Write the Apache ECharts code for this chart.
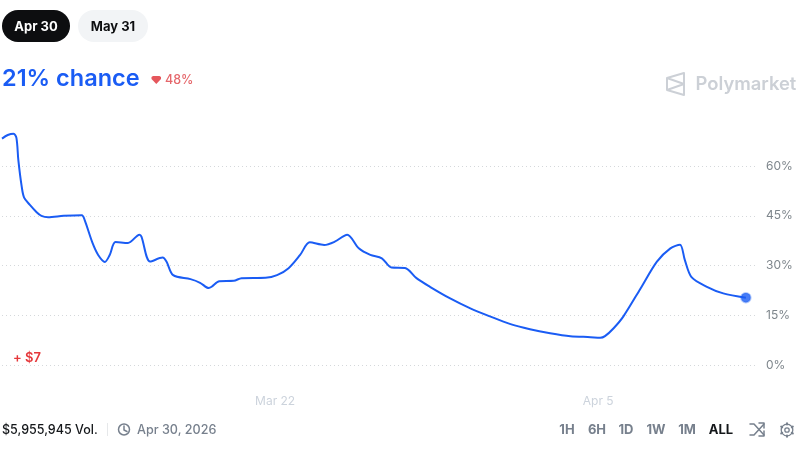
<!DOCTYPE html>
<html>
<head>
<meta charset="utf-8">
<title>Polymarket chance</title>
<script src="https://cdn.jsdelivr.net/npm/echarts@6/dist/echarts.min.js"></script>
<style>
html, body { margin: 0; padding: 0; background: #fff; }
#main { width: 800px; height: 450px; }
</style>
</head>
<body>
<div id="main"></div>
<script>
'use strict';
var startTime = Date.UTC(2026, 2, 10, 4);
var endHours = 783;

var hours = [0, 6, 12, 15, 17, 20.5, 23, 29, 36, 41, 48, 64, 83, 86, 94, 100, 107, 112, 118, 131,
	143, 145, 154, 167, 171, 178, 196, 206, 215, 218, 226, 241, 249, 274, 286, 298, 310, 320, 335, 346,
	359, 371, 383, 395, 405, 419, 431, 445, 466, 487, 508, 528, 549, 570, 591, 612, 622, 627, 636, 646,
	664, 681, 695, 705, 710, 717, 733, 750, 773.5];
var chance = [68.3, 69.4, 69.8, 68.5, 61.8, 53.8, 50.5, 48.3, 46.1, 45.0, 44.6, 45.0, 45.2, 43.7, 36.9, 33.2, 31.1, 33.2, 37.1, 36.8,
	39.3, 38.7, 31.2, 32.4, 31.2, 27.1, 25.9, 24.8, 23.2, 23.6, 25.3, 25.4, 26.2, 26.3, 27.1, 29.2, 33.2, 37.0, 36.2, 37.2,
	39.3, 35.2, 33.2, 32.2, 29.4, 29.3, 26.2, 23.6, 20.1, 17.1, 14.6, 12.4, 10.8, 9.6, 8.7, 8.4, 8.2, 8.7, 11.1, 14.6,
	23.1, 31.2, 35.2, 36.3, 31.7, 26.5, 23.6, 21.6, 20.3];
var xTicks = [Date.UTC(2026, 2, 22), Date.UTC(2026, 3, 5)];
var xTickLabels = ['Mar 22', 'Apr 5'];
var ranges = ['1H', '6H', '1D', '1W', '1M', 'ALL'];
var rangeX = [567, 597, 626, 656, 687, 721];

var BLUE = '#1a5cf4';
var FONT = 'Inter, "Noto Sans", sans-serif';

var points = hours.map(function (h, i) {
	return [startTime + h * 3600000, chance[i]];
});

function label(text, x, y, size, weight, color, align) {
	return {
		type: 'text', x: x, y: y,
		style: {
			text: text, fill: color, align: align || 'left', verticalAlign: 'middle',
			font: weight + ' ' + size + 'px ' + FONT
		}
	};
}

function outline(shape, color, width, x, y, type) {
	return {
		type: type || 'polyline', x: x, y: y, shape: shape,
		style: { fill: 'none', stroke: color, lineWidth: width, lineCap: 'round', lineJoin: 'round' }
	};
}

var graphics = [
	{ type: 'rect', shape: { x: 2, y: 10, width: 68, height: 32, r: 16 }, style: { fill: '#0d0e10' } },
	{ type: 'rect', shape: { x: 78, y: 10, width: 70, height: 32, r: 16 }, style: { fill: '#f2f4f6' } },
	label('Apr 30', 36, 27, 13, 700, '#ffffff', 'center'),
	label('May 31', 113, 27, 13, 700, '#0d0e10', 'center'),
	label('21% chance', 2, 78.5, 23.5, 600, BLUE),
	{ type: 'polygon', shape: { points: [[151.5, 77], [153, 76], [159.5, 76], [161, 77], [161, 79], [156.3, 84], [151.5, 79]] }, style: { fill: '#e5575c' } },
	label('48%', 165, 80, 12.5, 500, '#e5676b'),
	label('Polymarket', 695.5, 84.5, 18.4, 600, '#ccd0d6'),
	outline({ points: [[667, 78], [684, 73], [684, 95], [667, 90], [667, 78], [684, 84], [667, 90]] }, '#ccd0d6', 2, 0, 0),
	label('+ $7', 13, 358, 13, 600, '#e5383b'),
	label('$5,955,945 Vol.', 2, 430, 12.5, 500, '#14171a'),
	{ type: 'rect', shape: { x: 107, y: 423, width: 1, height: 13 }, style: { fill: '#e6e8ea' } },
	outline({ cx: 124, cy: 429.5, r: 5.5 }, '#77808d', 1.5, 0, 0, 'circle'),
	outline({ points: [[124, 426], [124, 430], [127, 431.5]] }, '#77808d', 1.5, 0, 0),
	label('Apr 30, 2026', 137, 430, 12.6, 500, '#77808d'),
	outline({ points: [[750, 424], [754, 424], [764, 435]] }, '#77808d', 1.5, 0, 0),
	outline({ points: [[750, 435], [754, 435], [764, 424]] }, '#77808d', 1.5, 0, 0),
	outline({ points: [[759, 423], [764, 423], [764, 428]] }, '#77808d', 1.5, 0, 0),
	outline({ points: [[759, 436], [764, 436], [764, 431]] }, '#77808d', 1.5, 0, 0),
	outline({ cx: 787, cy: 430, r: 2.2 }, '#77808d', 1.3, 0, 0, 'circle'),
	outline({ cx: 787, cy: 430, r: 5.8 }, '#77808d', 1.3, 0, 0, 'circle'),
	outline({ points: [[787, 423.3], [787, 424.4]] }, '#77808d', 2, 0, 0),
	outline({ points: [[787, 435.6], [787, 436.7]] }, '#77808d', 2, 0, 0),
	outline({ points: [[781.2, 426.6], [782.2, 427.2]] }, '#77808d', 2, 0, 0),
	outline({ points: [[792.8, 426.6], [791.8, 427.2]] }, '#77808d', 2, 0, 0),
	outline({ points: [[781.2, 433.4], [782.2, 432.8]] }, '#77808d', 2, 0, 0),
	outline({ points: [[792.8, 433.4], [791.8, 432.8]] }, '#77808d', 2, 0, 0)
];
ranges.forEach(function (r, i) {
	graphics.push(label(r, rangeX[i], 430.5, 13, 700, r === 'ALL' ? '#14171a' : '#77808d', 'center'));
});

var chart = echarts.init(document.getElementById('main'));
chart.setOption({
	animation: false,
	backgroundColor: '#ffffff',
	textStyle: { fontFamily: FONT },
	grid: { left: 2, right: 45, top: 116.4, bottom: 85 },
	xAxis: {
		type: 'value',
		min: startTime,
		max: startTime + endHours * 3600000,
		axisLine: { show: false },
		axisTick: { show: false },
		splitLine: { show: false },
		axisLabel: {
			customValues: xTicks,
			margin: 30,
			color: '#ccd3dc',
			fontSize: 12,
			fontFamily: FONT,
			formatter: function (v) { return xTickLabels[xTicks.indexOf(v)]; }
		}
	},
	yAxis: {
		type: 'value',
		position: 'right',
		min: 0,
		max: 75,
		interval: 15,
		axisLine: { show: false },
		axisTick: { show: false },
		axisLabel: {
			margin: 11,
			color: '#7e868c',
			fontSize: 12,
			fontFamily: FONT,
			showMaxLabel: false,
			formatter: '{value}%'
		},
		splitLine: {
			showMaxLine: false,
			lineStyle: { color: '#d5d8db', type: [1, 3], width: 1 }
		}
	},
	series: [{
		type: 'line',
		data: points,
		smooth: 0.3,
		symbol: 'none',
		lineStyle: { color: BLUE, width: 2 }
	}, {
		type: 'scatter',
		data: [points[points.length - 1]],
		symbolSize: 9.5,
		z: 5,
		itemStyle: { color: BLUE, borderColor: 'rgba(26,92,244,0.4)', borderWidth: 2 }
	}],
	graphic: graphics
});
</script>
</body>
</html>
